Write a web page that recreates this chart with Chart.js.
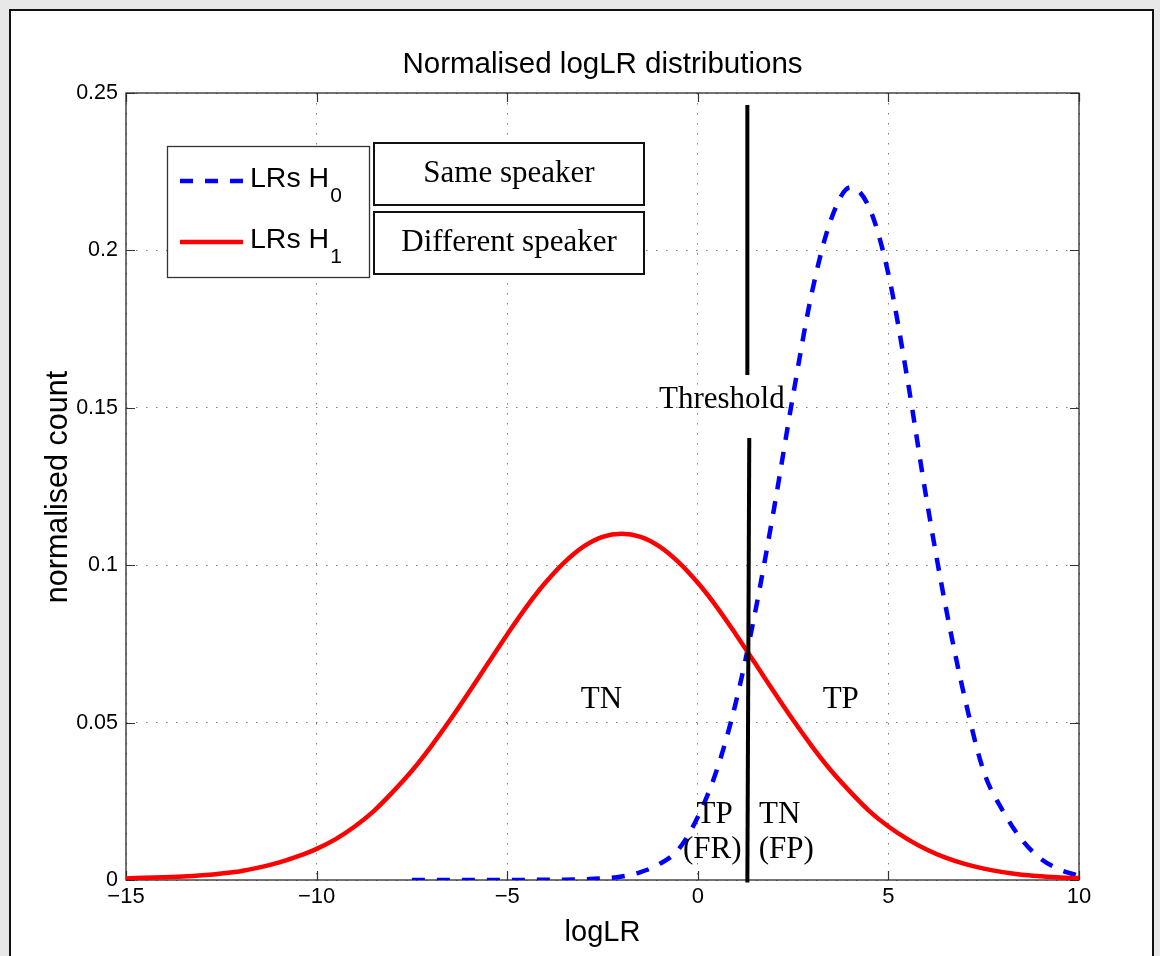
<!DOCTYPE html>
<html>
<head>
<meta charset="utf-8">
<script src="https://cdn.jsdelivr.net/npm/chart.js@4.4.1/dist/chart.umd.min.js"></script>
<style>
html,body{margin:0;padding:0;background:#e8e8e8;overflow:hidden;}
canvas{display:block;}
</style>
</head>
<body>
<canvas id="c" width="1160" height="956"></canvas>
<script>
// ---------- data ----------
const h1X = [-15,-14.5,-14,-13.5,-13,-12.5,-12,-11.5,-11,-10.5,-10,-9.5,-9,-8.5,-8,-7.5,-7,-6.5,-6,-5.5,-5,-4.5,-4,-3.5,-3,-2.5,-2,-1.5,-1,-0.5,0,0.5,1,1.5,2,2.5,3,3.5,4,4.5,5,5.5,6,6.5,7,7.5,8,8.5,9,9.5,10];
const h1Y = [0.0005,0.0007,0.0009,0.0011,0.0015,0.0021,0.0028,0.0040,0.0055,0.0075,0.0099,0.0130,0.0170,0.0219,0.0280,0.0347,0.0424,0.0508,0.0597,0.0689,0.0780,0.0867,0.0944,0.1009,0.1059,0.1090,0.1100,0.1090,0.1059,0.1009,0.0944,0.0867,0.0780,0.0689,0.0597,0.0508,0.0424,0.0347,0.0280,0.0219,0.0170,0.0130,0.0097,0.0071,0.0051,0.0036,0.0025,0.0017,0.0012,0.0008,0.0006];

const h0X = [-7.5,-7,-6.5,-6,-5.5,-5,-4.5,-4,-3.5,-3,-2.5,-2,-1.5,-1,-0.5,0,0.5,1,1.5,2,2.5,3,3.5,4,4.5,5,5.5,6,6.5,7,7.5,8,8.5,9,9.5,10];
const h0Y = [0,0,0,0,0,0,0,0.0001,0.0001,0.0002,0.0005,0.0011,0.0025,0.0051,0.0098,0.0200,0.0350,0.0565,0.0848,0.1180,0.1540,0.1870,0.2100,0.2200,0.2135,0.1925,0.1590,0.1210,0.0870,0.0580,0.0345,0.0220,0.0128,0.0067,0.0033,0.0013];

const thrUpperX = [1.30, 1.30];
const thrUpperY = [0.2462, 0.1604];
const thrLowerX = [1.35, 1.30];
const thrLowerY = [0.1404, -0.0008];

const xTickValues = [-15,-10,-5,0,5,10];
const xTickLabels = ['\u221215','\u221210','\u22125','0','5','10'];
const yTickValues = [0,0.05,0.1,0.15,0.2,0.25];
const yTickLabels = ['0','0.05','0.1','0.15','0.2','0.25'];

const titleText = 'Normalised logLR distributions';
const xTitle = 'logLR';
const yTitle = 'normalised count';

const legendNames = ['LRs H','LRs H'];
const legendSubs = ['0','1'];
const speakerLabels = ['Same speaker','Different speaker'];

const annoText = ['Threshold','TN','TP','TP','(FR)','TN','(FP)'];
const annoX    = [0.63,-2.53,3.75,0.44,0.38,2.15,2.32];
const annoY    = [0.150,0.0546,0.0546,0.0181,0.0070,0.0181,0.0070];

// ---------- helpers ----------
const pts = (xs, ys) => xs.map((x, i) => ({x: x, y: ys[i]}));
const SANS = '"Liberation Sans", Arial, Helvetica, sans-serif';
const SERIF = '"Liberation Serif", "Times New Roman", serif';

const decor = {
  id: 'decor',
  beforeDraw(chart) {
    const ctx = chart.ctx;
    ctx.save();
    ctx.fillStyle = '#e8e8e8';
    ctx.fillRect(0, 0, chart.width, chart.height);
    ctx.fillStyle = '#ffffff';
    ctx.fillRect(10, 10, 1143, 1000);
    ctx.strokeStyle = '#111';
    ctx.lineWidth = 2;
    ctx.strokeRect(10, 10, 1143, 1000);
    ctx.restore();
  },
  beforeDatasetsDraw(chart) {
    const ctx = chart.ctx;
    const a = chart.chartArea;
    const xs = chart.scales.x, ys = chart.scales.y;
    ctx.save();
    ctx.strokeStyle = '#333';
    ctx.lineWidth = 1.2;
    ctx.beginPath();
    xs.ticks.forEach(t => {
      const p = Math.round(xs.getPixelForValue(t.value)) + 0.5;
      ctx.moveTo(p, a.bottom); ctx.lineTo(p, a.bottom - 9);
      ctx.moveTo(p, a.top); ctx.lineTo(p, a.top + 9);
    });
    ys.ticks.forEach(t => {
      const p = Math.round(ys.getPixelForValue(t.value)) + 0.5;
      ctx.moveTo(a.left, p); ctx.lineTo(a.left + 9, p);
      ctx.moveTo(a.right, p); ctx.lineTo(a.right - 9, p);
    });
    ctx.stroke();
    ctx.strokeStyle = '#2a2a2a';
    ctx.lineWidth = 1.3;
    ctx.strokeRect(a.left, a.top, a.right - a.left, a.bottom - a.top);
    ctx.restore();
  },
  afterDatasetsDraw(chart) {
    const ctx = chart.ctx;
    const a = chart.chartArea;
    const xs = chart.scales.x, ys = chart.scales.y;
    ctx.save();
    // title and axis titles
    ctx.fillStyle = '#000';
    ctx.textAlign = 'center';
    ctx.textBaseline = 'alphabetic';
    ctx.font = '29.5px ' + SANS;
    ctx.fillText(titleText, (a.left + a.right) / 2, 73);
    ctx.font = '29px ' + SANS;
    ctx.fillText(xTitle, (a.left + a.right) / 2, 941);
    ctx.save();
    ctx.translate(67, 487);
    ctx.rotate(-Math.PI / 2);
    ctx.font = '30.5px ' + SANS;
    ctx.fillText(yTitle, 0, 0);
    ctx.restore();

    // legend box
    ctx.fillStyle = '#fff';
    ctx.fillRect(167, 146, 202, 131);
    ctx.strokeStyle = '#333';
    ctx.lineWidth = 1.3;
    ctx.strokeRect(167.5, 146.5, 202, 131);
    const ds = chart.data.datasets;
    const legendRows = [{ds: ds[4], y: 181}, {ds: ds[3], y: 242}];
    legendRows.forEach((r, i) => {
      ctx.save();
      ctx.strokeStyle = r.ds.borderColor;
      ctx.lineWidth = r.ds.borderWidth;
      ctx.setLineDash(r.ds.borderDash || []);
      ctx.beginPath();
      ctx.moveTo(180, r.y); ctx.lineTo(243, r.y);
      ctx.stroke();
      ctx.restore();
      ctx.fillStyle = '#000';
      ctx.textAlign = 'left';
      ctx.font = '28.5px ' + SANS;
      ctx.fillText(legendNames[i], 250, r.y + 6);
      const w = ctx.measureText(legendNames[i]).width;
      ctx.font = '21px ' + SANS;
      ctx.fillText(legendSubs[i], 250 + w + 1, r.y + 21);
    });

    // speaker boxes
    const boxes = [{y: 143, h: 62}, {y: 212, h: 62}];
    boxes.forEach((b, i) => {
      ctx.fillStyle = '#fff';
      ctx.fillRect(373, b.y, 271, b.h);
      ctx.strokeStyle = '#111';
      ctx.lineWidth = 2;
      ctx.strokeRect(374, b.y, 270, b.h);
      ctx.fillStyle = '#000';
      ctx.textAlign = 'center';
      ctx.font = '31px ' + SERIF;
      ctx.fillText(speakerLabels[i], 509, b.y + 39);
    });

    // annotations
    ctx.fillStyle = '#000';
    ctx.textAlign = 'center';
    ctx.font = '31px ' + SERIF;
    annoText.forEach((t, i) => {
      ctx.fillText(t, xs.getPixelForValue(annoX[i]), ys.getPixelForValue(annoY[i]));
    });
    ctx.restore();
  }
};

new Chart(document.getElementById('c'), {
  type: 'line',
  data: {
    datasets: [
      {data: pts(thrUpperX, thrUpperY), borderColor: '#000', borderWidth: 4, pointRadius: 0, clip: false, tension: 0},
      {data: pts(thrLowerX, thrLowerY), borderColor: '#000', borderWidth: 4, pointRadius: 0, clip: false, tension: 0},
      {data: [], borderColor: '#000', borderWidth: 0, pointRadius: 0},
      {label: 'LRs H1', data: pts(h1X, h1Y), borderColor: '#ff0000', borderWidth: 4.5, pointRadius: 0, cubicInterpolationMode: 'monotone', fill: false},
      {label: 'LRs H0', data: pts(h0X, h0Y), borderColor: '#0000ff', borderWidth: 4.5, borderDash: [13, 12], pointRadius: 0, cubicInterpolationMode: 'monotone', fill: false}
    ]
  },
  options: {
    responsive: false,
    devicePixelRatio: 1,
    animation: false,
    events: [],
    layout: {padding: {top: 93, right: 81, left: 0, bottom: 0}},
    plugins: {legend: {display: false}, tooltip: {enabled: false}, title: {display: false}},
    scales: {
      x: {
        type: 'linear', min: -15, max: 10,
        afterBuildTicks: s => { s.ticks = xTickValues.map(v => ({value: v})); },
        afterFit: s => { s.height = 76; },
        ticks: {
          callback: (v, i) => xTickLabels[i],
          font: {family: SANS, size: 22}, color: '#000', padding: 4, maxRotation: 0, autoSkip: false
        },
        grid: {color: '#808080', lineWidth: 1, drawTicks: false},
        border: {display: false, dash: [1.5, 8.5]}
      },
      y: {
        type: 'linear', min: 0, max: 0.25,
        afterBuildTicks: s => { s.ticks = yTickValues.map(v => ({value: v})); },
        afterFit: s => { s.width = 126; },
        ticks: {
          callback: (v, i) => yTickLabels[i],
          font: {family: SANS, size: 21.5}, color: '#000', padding: 8, autoSkip: false
        },
        grid: {color: '#808080', lineWidth: 1, drawTicks: false},
        border: {display: false, dash: [1.5, 8.5]}
      }
    }
  },
  plugins: [decor]
});
</script>
</body>
</html>
